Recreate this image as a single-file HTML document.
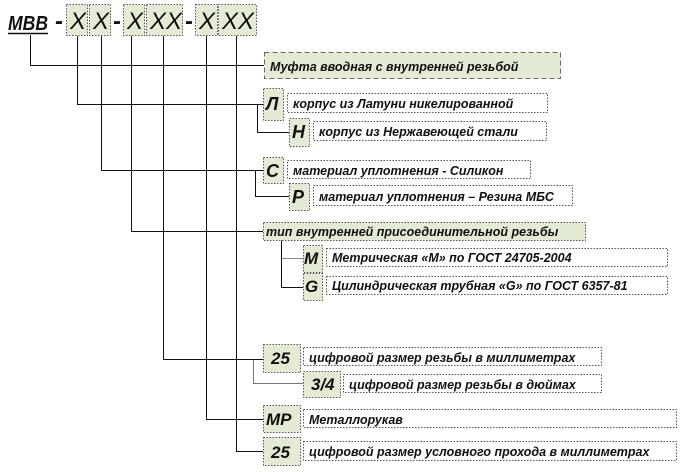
<html><head><style>body{margin:0;background:#fff}svg{display:block}text{font-family:"Liberation Sans",sans-serif;font-style:italic;font-weight:bold}</style></head><body>
<svg width="680" height="472" viewBox="0 0 680 472" xmlns="http://www.w3.org/2000/svg">
<g fill="#e3ebd5" stroke="#555" stroke-dasharray="1.5,1.5" stroke-width="1">
<rect x="66.5" y="4.5" width="21" height="31"/><rect x="89.5" y="4.5" width="21" height="31"/>
<rect x="123.5" y="4.5" width="21" height="31"/><rect x="146.5" y="4.5" width="36" height="31"/>
<rect x="195.5" y="4.5" width="22" height="31"/><rect x="218.5" y="4.5" width="38" height="31"/>
</g>
<g font-size="24" fill="#111">
<text x="8" y="30" font-size="20" textLength="40" lengthAdjust="spacingAndGlyphs">МВВ</text>
<text x="55" y="29">-</text><text x="70" y="29" style="font-weight:normal">X</text><text x="93" y="29" style="font-weight:normal">X</text>
<text x="113" y="29">-</text><text x="127" y="29" style="font-weight:normal">X</text><text x="150" y="29" style="font-weight:normal">XX</text>
<text x="185" y="29">-</text><text x="199" y="29" style="font-weight:normal">X</text><text x="222" y="29" style="font-weight:normal">XX</text>
</g>
<line x1="8" y1="33.5" x2="48" y2="33.5" stroke="#111" stroke-width="1.5"/>
<g stroke="#111" fill="none" stroke-width="1">
<polyline points="30.5,35 30.5,65.5 264,65.5"/>
<polyline points="77.5,36 77.5,104.5 263,104.5"/>
<polyline points="101.5,36 101.5,170.5 263,170.5"/>
<polyline points="131.5,36 131.5,231.5 263,231.5"/>
<polyline points="163.5,36 163.5,359.5 263,359.5"/>
<polyline points="206.5,36 206.5,419.5 263,419.5"/>
<polyline points="236.5,36 236.5,451.5 263,451.5"/>
<polyline points="257.5,104.5 257.5,132.5 289,132.5"/>
<polyline points="255.5,170.5 255.5,196.5 289,196.5"/>
<polyline points="281.5,240 281.5,287.5 303,287.5"/>
<polyline points="253.5,359.5 253.5,383.5 303,383.5" stroke="#777"/>
<line x1="281.5" y1="258.5" x2="303" y2="258.5" stroke="#888"/>
</g>
<g stroke="#555" stroke-dasharray="1.5,1.5" fill="#fff">
<rect x="287.5" y="93.5" width="260" height="19"/><rect x="313.5" y="121.5" width="233" height="19"/>
<rect x="287.5" y="160.5" width="243" height="18"/><rect x="313.5" y="185.5" width="259" height="20"/>
<rect x="326.5" y="248.5" width="341" height="18"/><rect x="326.5" y="276.5" width="341" height="18"/>
<rect x="303.5" y="347.5" width="298" height="18"/><rect x="343.5" y="374.5" width="258" height="18"/>
<rect x="303.5" y="409.5" width="373" height="18"/><rect x="303.5" y="441.5" width="373" height="19"/>
</g>
<g fill="#e3ebd5" stroke="#555" stroke-dasharray="1.5,1.5">
<rect x="264.5" y="52.5" width="296" height="26" stroke-dasharray="5,3" stroke="#666"/>
<rect x="263.5" y="88.5" width="20" height="32"/><rect x="289.5" y="118.5" width="20" height="28"/>
<rect x="263.5" y="157.5" width="20" height="26"/><rect x="289.5" y="183.5" width="20" height="27"/>
<rect x="263.5" y="222.5" width="322" height="18"/>
<rect x="303.5" y="245.5" width="19" height="27"/><rect x="303.5" y="273.5" width="19" height="27"/>
<rect x="263.5" y="344.5" width="37" height="28"/><rect x="303.5" y="371.5" width="37" height="26"/>
<rect x="263.5" y="405.5" width="37" height="27"/><rect x="263.5" y="437.5" width="37" height="28"/>
</g>
<g fill="#111" font-size="12.5">
<text x="270" y="71">Муфта вводная с внутренней резьбой</text>
<text x="266" y="110" font-size="18">Л</text><text x="293" y="108">корпус из Латуни никелированной</text>
<text x="292" y="138" font-size="18">Н</text><text x="319" y="136">корпус из Нержавеющей стали</text>
<text x="266" y="177" font-size="18">С</text><text x="293" y="175">материал уплотнения - Силикон</text>
<text x="292" y="203" font-size="18">Р</text><text x="319" y="201">материал уплотнения – Резина МБС</text>
<text x="266" y="236">тип внутренней присоединительной резьбы</text>
<text x="304" y="264" font-size="17">М</text><text x="332" y="262">Метрическая «М» по ГОСТ 24705-2004</text>
<text x="305" y="292" font-size="17">G</text><text x="332" y="290">Цилиндрическая трубная «G» по ГОСТ 6357-81</text>
<text x="271" y="364" font-size="17">25</text><text x="309" y="362">цифровой размер резьбы в миллиметрах</text>
<text x="311" y="390" font-size="17">3/4</text><text x="349" y="389">цифровой размер резьбы в дюймах</text>
<text x="266" y="425" font-size="17">МР</text><text x="309" y="424">Металлорукав</text>
<text x="271" y="458" font-size="17">25</text><text x="309" y="456">цифровой размер условного прохода в миллиметрах</text>
</g>
</svg></body></html>
